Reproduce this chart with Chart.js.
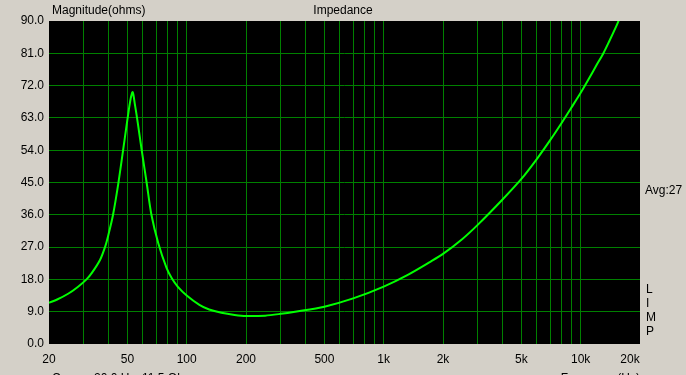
<!DOCTYPE html>
<html>
<head>
<meta charset="utf-8">
<script src="https://cdn.jsdelivr.net/npm/chart.js@4/dist/chart.umd.min.js"></script>
<style>
  body { margin: 0; background: #d4d0c8; }
  canvas { display: block; }
</style>
</head>
<body>
<canvas id="chart" width="686" height="375"></canvas>
<script>
// impedance curve (Hz, ohms)
const freqs = [20, 22, 25, 28, 31, 33, 36.3, 38.6, 40, 42.2, 44.9, 47.5, 50, 52, 53.2, 54.5, 56.5, 59.1, 62.6, 66.2,
    71.8, 79, 84, 90, 100, 116, 130, 150, 175, 200, 250, 300, 355, 500, 700, 1000, 1318, 1723, 2000,
    2500, 3000, 4000, 5000, 6000, 7000, 8000, 9000, 10000, 11000, 12000, 13000, 14000, 15000, 15640];
const ohms = [11.5, 12.4, 14.0, 15.9, 18, 19.8, 23.4, 27.2, 30.3, 35.8, 44.5, 53.8, 62.5, 68.5, 70.2, 67, 61.5, 54, 45, 36,
    28, 21.2, 18.3, 16, 13.5, 10.9, 9.6, 8.7, 8.1, 7.8, 7.9, 8.4, 9, 10.4, 12.7, 16, 19.2, 22.9, 25.1,
    29.2, 33.2, 40.2, 46.0, 51.6, 56.8, 61.6, 66.0, 70.0, 73.9, 77.6, 80.9, 84.5, 88.0, 90.3];

// vertical grid positions and the labelled ones
const gridFreqs = [20, 30, 40, 50, 60, 70, 80, 90, 100, 200, 300, 400, 500, 600, 700, 800, 900,
    1000, 2000, 3000, 4000, 5000, 6000, 7000, 8000, 9000, 10000, 20000];
const labelFreqs = [20, 50, 100, 200, 500, 1000, 2000, 5000, 10000, 20000];
const labelTexts = ['20', '50', '100', '200', '500', '1k', '2k', '5k', '10k', '20k'];

const yMin = 0, yMax = 90, yStep = 9;

const title = 'Impedance';
const yTitle = 'Magnitude(ohms)';
const avgText = 'Avg:27';
const sideLetters = ['L', 'I', 'M', 'P'];
const xTitle = 'Frequency(Hz)';

const font = '12px "Liberation Sans", Arial, sans-serif';

const points = freqs.map((f, i) => ({ x: f, y: ohms[i] }));

const extras = {
    id: 'extras',
    beforeDraw(chart) {
        const { ctx, chartArea: a } = chart;
        ctx.save();
        ctx.fillStyle = '#000';
        ctx.fillRect(a.left, a.top, a.right - a.left, a.bottom - a.top);
        ctx.restore();
    },
    afterDraw(chart) {
        const ctx = chart.ctx;
        ctx.save();
        ctx.font = font;
        ctx.fillStyle = '#000';
        ctx.textBaseline = 'alphabetic';
        ctx.textAlign = 'left';
        ctx.fillText(yTitle, 52, 14);
        ctx.fillText(avgText, 645, 194);
        sideLetters.forEach((l, i) => ctx.fillText(l, 646, 293 + i * 14));
        ctx.fillText('Cursor:', 52, 382);
        ctx.fillText('20.0 Hz, 11.5 Ohm', 94, 382);
        ctx.textAlign = 'center';
        ctx.fillText(title, 343, 14);
        ctx.textAlign = 'right';
        ctx.fillText(xTitle, 640, 382);
        ctx.restore();
    }
};

const edgeX = v => v === gridFreqs[0] || v === gridFreqs[gridFreqs.length - 1];
const edgeY = v => v === yMin || v === yMax;

new Chart(document.getElementById('chart'), {
    type: 'line',
    data: {
        datasets: [{
            data: points,
            borderColor: '#00ff00',
            borderWidth: 2,
            pointRadius: 0,
            tension: 0.3,
            fill: false
        }]
    },
    options: {
        responsive: false,
        devicePixelRatio: 1,
        animation: false,
        layout: { padding: { left: 0, top: 21, right: 46, bottom: 0 } },
        plugins: {
            legend: { display: false },
            tooltip: { enabled: false }
        },
        scales: {
            x: {
                type: 'logarithmic',
                min: 20,
                max: 20000,
                afterBuildTicks: scale => {
                    scale.ticks = gridFreqs.map(v => ({ value: v }));
                },
                afterFit: scale => { scale.height = 31; },
                border: { display: false },
                grid: {
                    drawTicks: false,
                    color: ctx => edgeX(ctx.tick.value) ? 'rgba(0,0,0,0)' : '#008000',
                    lineWidth: 1
                },
                ticks: {
                    autoSkip: false,
                    maxRotation: 0,
                    padding: 8,
                    color: '#000',
                    font: { family: '"Liberation Sans", Arial, sans-serif', size: 12 },
                    callback: value => {
                        const i = labelFreqs.indexOf(value);
                        if (i < 0) return '';
                        // last label sits inside the right edge
                        return i === labelFreqs.length - 1 ? labelTexts[i] + '      ' : labelTexts[i];
                    }
                }
            },
            y: {
                min: yMin,
                max: yMax,
                afterFit: scale => { scale.width = 49; },
                border: { display: false },
                grid: {
                    drawTicks: false,
                    color: ctx => edgeY(ctx.tick.value) ? 'rgba(0,0,0,0)' : '#008000',
                    lineWidth: 1
                },
                ticks: {
                    stepSize: yStep,
                    padding: 5,
                    color: '#000',
                    font: { family: '"Liberation Sans", Arial, sans-serif', size: 12 },
                    callback: v => v.toFixed(1)
                }
            }
        }
    },
    plugins: [extras]
});
</script>
</body>
</html>
